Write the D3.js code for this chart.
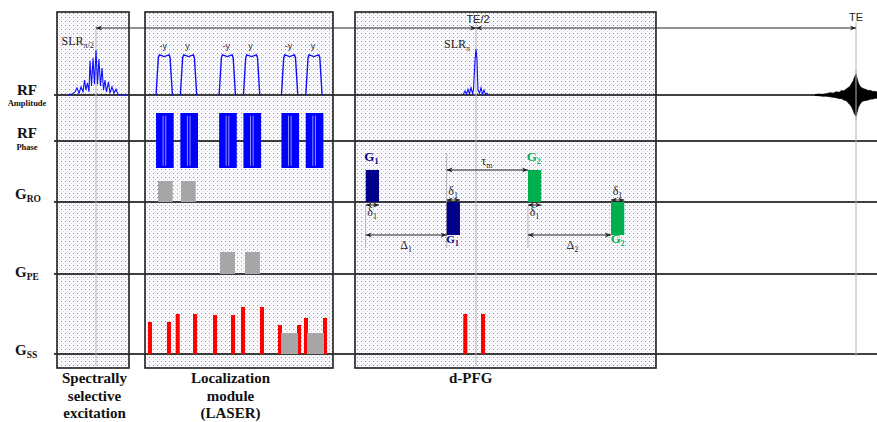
<!DOCTYPE html>
<html><head><meta charset="utf-8">
<script src="https://cdn.jsdelivr.net/npm/d3@7"></script>
<style>body{margin:0;background:#fff}svg{display:block}</style>
</head><body><svg id="c" width="877" height="422"></svg>
<script>
// ---------- DATA (time in units where TE = 100) ----------
const TE = 100;
const channels = ["RF", "RF", "G", "G", "G"];
const channelSubs = ["Amplitude", "Phase", "RO", "PE", "SS"];

const moduleLines = [["Spectrally", "selective", "excitation"], ["Localization", "module", "(LASER)"], ["d-PFG"]];
const moduleStart = [-5.13, 6.45, 34.08];
const moduleEnd = [4.34, 31.18, 73.68];
const moduleLabelT = [-0.2, 17.7, 49.3];

// SLR pi/2 excitation (centred at t = 0)
const slr90T = [-3.68,-3.16,-2.76,-2.5,-2.24,-1.97,-1.71,-1.51,-1.32,-1.12,-0.92,-0.79,-0.59,-0.39,-0.2,0,0.2,0.39,0.59,0.79,0.99,1.18,1.38,1.64,1.84,2.1,2.37,2.63,2.89,3.29,4.2];
const slr90A = [0,0.02,0.07,0.16,0.04,0.18,0.07,0.33,0.11,0.27,0.07,0.76,0.2,0.82,0.24,1.0,0.24,0.8,0.2,0.6,0.11,0.33,0.07,0.29,0.04,0.18,0.04,0.13,0.02,0,0];
// SLR pi refocusing (centred at TE/2)
const slr180T = [-1.71,-1.45,-1.25,-1.05,-0.86,-0.66,-0.46,-0.33,-0.13,0,0.13,0.26,0.46,0.66,0.86,1.05,1.25,1.45,1.58];
const slr180A = [0,0.09,0.02,0.13,0.02,0.16,0.04,0.11,0.78,1.02,0.78,0.11,0.04,0.16,0.02,0.11,0.02,0.04,0];

// LASER adiabatic pulses
const laserStart = [7.9, 11.1, 16.2, 19.4, 24.4, 27.6];
const laserDur = 2.15;
const laserPhase = ["-y", "y", "-y", "y", "-y", "y"];
const laserAmp = 0.89;
const hsShapeT = [0, 0.14, 0.2, 0.3, 0.5, 0.7, 0.8, 0.86, 1];
const hsShapeA = [0, 0.93, 1.0, 0.99, 0.96, 0.99, 1.0, 0.93, 0];
const phaseDur = 2.32;
const phaseStripes = [0.4, 0.55];

// Gradients (amplitudes in relative units)
const groStart = [8.16, 11.18], groDur = 1.93, groAmp = 0.525;
const gpeStart = [16.32, 19.6], gpeDur = 1.97, gpeAmp = 0.55;
const gssCenter = [7.1, 9.6, 10.75, 13.03, 15.66, 18.03, 19.34, 21.84, 24.21, 26.71, 27.63, 30.13, 48.59, 50.92];
const gssAmp = [0.8, 0.8, 1.0, 1.0, 0.975, 0.975, 1.175, 1.175, 0.725, 0.725, 0.9, 0.9, 1.0, 1.0];
const gssWidth = 0.53;
const crushStart = [24.34, 27.76], crushDur = 2.24, crushAmp = 0.525;

// d-PFG diffusion gradients
const dName = ["G1", "G1", "G2", "G2"];
const dStart = [35.49, 46.14, 56.84, 67.76];
const dDur = 1.75;
const dAmp = [0.8, -0.825, 0.8, -0.825];

// Echo signal envelope (centred at TE), upper and lower edges
const echoT = [-5.4,-4.9,-4.4,-3.9,-3.4,-3.0,-2.6,-2.2,-1.9,-1.6,-1.3,-1.05,-0.8,-0.55,-0.35,-0.18,0,0.15,0.3,0.5,0.75,1.0,1.3,1.6,1.9,2.2,2.5,2.8];
const echoUp = [0.01,0.02,0.015,0.03,0.05,0.04,0.07,0.06,0.1,0.09,0.13,0.16,0.19,0.26,0.32,0.4,0.46,0.36,0.27,0.2,0.16,0.14,0.12,0.1,0.1,0.08,0.08,0.065];
const echoDn = [0.01,0.015,0.025,0.025,0.04,0.05,0.06,0.08,0.08,0.11,0.12,0.17,0.21,0.27,0.35,0.43,0.47,0.38,0.28,0.21,0.15,0.13,0.12,0.11,0.09,0.09,0.07,0.07];

// ---------- DRAWING ----------
const svg = d3.select("#c");
const x = d3.scaleLinear().domain([0, TE]).range([96, 856]);
const yRF = d3.scaleLinear().domain([0, 1]).range([95, 50]);
const base = [95, 141, 202, 274, 354];
const gH = d3.scaleLinear().domain([0, 1]).range([0, 40]);
const phY = d3.scaleLinear().domain([-1, 1]).range([168, 113]);
const boxTop = 12, boxBot = 368;
const BLUE = "#1010ff", NAVY = "#00008b", GREEN = "#00b050", RED = "#ff0000", GREY = "#a6a6a6";
const serif = "'Liberation Serif','Times New Roman',serif";
const sans = "'Liberation Sans',Arial,sans-serif";

const defs = svg.append("defs");
const pat = defs.append("pattern").attr("id", "dots").attr("width", 4).attr("height", 4).attr("patternUnits", "userSpaceOnUse");
pat.append("rect").attr("width", 4).attr("height", 4).attr("fill", "#fbfbff");
pat.append("rect").attr("x", 1).attr("y", 1).attr("width", 1).attr("height", 1).attr("fill", "#8282f0");
pat.append("rect").attr("x", 3).attr("y", 3).attr("width", 1).attr("height", 1).attr("fill", "#d2d2fa");
defs.append("marker").attr("id", "ah").attr("viewBox", "0 0 10 10").attr("refX", 10).attr("refY", 5)
  .attr("markerWidth", 6).attr("markerHeight", 6).attr("orient", "auto-start-reverse")
  .append("path").attr("d", "M0,1L10,5L0,9L3,5Z").attr("fill", "#222");

// module boxes (fill)
const mods = moduleStart.map((s, i) => ({ s, e: moduleEnd[i], lines: moduleLines[i], lt: moduleLabelT[i] }));
svg.selectAll("rect.mod").data(mods).join("rect").attr("class", "mod")
  .attr("x", d => x(d.s)).attr("y", boxTop).attr("width", d => x(d.e) - x(d.s)).attr("height", boxBot - boxTop)
  .attr("fill", "url(#dots)");

// channel baselines
svg.selectAll("line.base").data(base).join("line").attr("class", "base")
  .attr("x1", 54).attr("x2", 877).attr("y1", d => d).attr("y2", d => d)
  .attr("stroke", "#000").attr("stroke-width", 1.3);

// vertical timing guides
const guide = (t, y1, y2) => svg.append("line").attr("x1", x(t)).attr("x2", x(t)).attr("y1", y1).attr("y2", y2)
  .attr("stroke", "#b4b4b4").attr("stroke-width", 1);
guide(0, 26, 366);
guide(TE / 2, 22, 366);
guide(TE, 22, 356);
guide(dStart[0], 205, 248);
guide(dStart[1], 153, 248);
guide(dStart[2], 206, 248);

// arrows
const arrow = (x1, x2, y) => svg.append("line").attr("x1", x1).attr("x2", x2).attr("y1", y).attr("y2", y)
  .attr("stroke", "#222").attr("stroke-width", 1).attr("marker-start", "url(#ah)").attr("marker-end", "url(#ah)");
arrow(x(0), x(TE / 2), 28);
arrow(x(TE / 2), x(TE), 28);

// RF amplitude: SLR pulses
const rfLine = d3.line().x(d => x(d[0])).y(d => yRF(d[1]));
svg.append("path").attr("d", rfLine(slr90T.map((t, i) => [t, slr90A[i]])))
  .attr("fill", "none").attr("stroke", BLUE).attr("stroke-width", 1.1);
svg.append("path").attr("d", rfLine(slr180T.map((t, i) => [TE / 2 + t, slr180A[i]])))
  .attr("fill", "none").attr("stroke", BLUE).attr("stroke-width", 1.1);

// LASER pulses
laserStart.forEach((s, i) => {
  svg.append("path").attr("d", rfLine(hsShapeT.map((f, j) => [s + f * laserDur, laserAmp * hsShapeA[j]])))
    .attr("fill", "none").attr("stroke", BLUE).attr("stroke-width", 1.4);
  svg.append("text").attr("x", x(s + laserDur / 2) - 1).attr("y", 49).attr("text-anchor", "middle")
    .attr("font-family", sans).attr("font-size", 9).attr("fill", "#333").text(laserPhase[i]);
});

// RF phase blocks
laserStart.forEach(s => {
  svg.append("rect").attr("x", x(s)).attr("y", phY(1)).attr("width", x(s + phaseDur) - x(s)).attr("height", phY(-1) - phY(1))
    .attr("fill", "#0000ff");
  phaseStripes.forEach(f => {
    svg.append("line").attr("x1", x(s + f * phaseDur)).attr("x2", x(s + f * phaseDur))
      .attr("y1", phY(0.9)).attr("y2", phY(-0.92)).attr("stroke", "#8c8cff").attr("stroke-width", 1);
  });
});

// gradient blocks helper
const gblock = (s, d, a, b, fill) => svg.append("rect").attr("x", x(s)).attr("width", x(s + d) - x(s))
  .attr("y", a >= 0 ? b - gH(a) : b).attr("height", gH(Math.abs(a))).attr("fill", fill);

groStart.forEach(s => gblock(s, groDur, groAmp, base[2], GREY));
gpeStart.forEach(s => gblock(s, gpeDur, gpeAmp, base[3], GREY));
gssCenter.forEach((c, i) => gblock(c - gssWidth / 2, gssWidth, gssAmp[i], base[4], RED));
crushStart.forEach(s => gblock(s, crushDur, crushAmp, base[4], GREY));

// d-PFG
dStart.forEach((s, i) => gblock(s, dDur, dAmp[i], base[2], dName[i] === "G1" ? NAVY : GREEN));

// echo
const echoArea = d3.area().x(d => x(TE + d[0])).y0(d => yRF(-d[2])).y1(d => yRF(d[1]));
svg.append("path").attr("d", echoArea(echoT.map((t, i) => [t, echoUp[i], echoDn[i]])))
  .attr("fill", "#000").attr("stroke", "#000").attr("stroke-width", 0.8);
guide(TE, 70, 120);

// module box borders
svg.selectAll("rect.modb").data(mods).join("rect").attr("class", "modb")
  .attr("x", d => x(d.s)).attr("y", boxTop).attr("width", d => x(d.e) - x(d.s)).attr("height", boxBot - boxTop)
  .attr("fill", "none").attr("stroke", "#2a2a2a").attr("stroke-width", 1.7);

// module labels
mods.forEach(m => {
  const t = svg.append("text").attr("text-anchor", "middle").attr("font-family", serif).attr("font-weight", "bold")
    .attr("font-size", 15).attr("fill", "#111");
  m.lines.forEach((ln, j) => t.append("tspan").attr("x", x(m.lt)).attr("y", 383 + j * 17.5).text(ln));
});

// channel labels
const lab = svg.append("g").attr("font-family", serif).attr("font-weight", "bold").attr("fill", "#111");
lab.append("text").attr("x", 27).attr("y", 95).attr("text-anchor", "middle").attr("font-size", 15).text(channels[0]);
lab.append("text").attr("x", 27).attr("y", 106).attr("text-anchor", "middle").attr("font-size", 8.5).text(channelSubs[0]);
lab.append("text").attr("x", 27).attr("y", 138).attr("text-anchor", "middle").attr("font-size", 15).text(channels[1]);
lab.append("text").attr("x", 27).attr("y", 150).attr("text-anchor", "middle").attr("font-size", 8.5).text(channelSubs[1]);
[[199, 2], [276.5, 3], [355, 4]].forEach(([yy, k]) => {
  const t = lab.append("text").attr("x", 15).attr("y", yy).attr("font-size", 15);
  t.append("tspan").text(channels[k]);
  t.append("tspan").attr("font-size", 9.5).attr("dy", 3).text(channelSubs[k]);
});

// RF annotations
const sub = (xx, yy, main, s, size, ssize, fam, weight, color) => {
  const t = svg.append("text").attr("x", xx).attr("y", yy).attr("font-family", fam).attr("font-size", size)
    .attr("font-weight", weight).attr("fill", color);
  t.append("tspan").text(main);
  t.append("tspan").attr("font-size", ssize).attr("dy", 3).text(s);
  return t;
};
sub(61.5, 45, "SLR", "π/2", 12, 8, serif, "normal", "#222");
sub(444, 48, "SLR", "π", 12, 8, serif, "normal", "#222");
svg.append("text").attr("x", x(TE / 2) + 2).attr("y", 22.5).attr("text-anchor", "middle").attr("font-family", sans)
  .attr("font-size", 11).attr("fill", "#222").text("TE/2");
svg.append("text").attr("x", x(TE)).attr("y", 20.5).attr("text-anchor", "middle").attr("font-family", sans)
  .attr("font-size", 11).attr("fill", "#222").text("TE");

// d-PFG annotations
const gy = base[2];
arrow(x(dStart[1]), x(dStart[2]), gy - gH(0.8));
arrow(x(dStart[0]), x(dStart[1]), gy + gH(0.825));
arrow(x(dStart[2]), x(dStart[3]), gy + gH(0.825));
sub(x((dStart[1] + dStart[2]) / 2) - 6, 165, "τ", "m", 12, 8, serif, "normal", "#222");
sub(x((dStart[0] + dStart[1]) / 2) - 6, 249, "Δ", "1", 12, 8, serif, "normal", "#222");
sub(x((dStart[2] + dStart[3]) / 2) - 3, 249, "Δ", "2", 12, 8, serif, "normal", "#222");
dStart.forEach((s, i) => {
  const up = dAmp[i] > 0;
  const ay = up ? gy + 3 : gy - 2;
  arrow(x(s), x(s + dDur), ay);
  sub(x(s + dDur / 2) - 5, up ? 216 : 195, "δ", "1", 12, 8, serif, "normal", "#222");
  const col = dName[i] === "G1" ? NAVY : GREEN;
  const xc = x(s + dDur / 2);
  if (up) sub(xc - 8, 161, "G", dName[i].slice(1), 13, 8, serif, "bold", col);
  else sub(xc - 7, 243, "G", dName[i].slice(1), i === 3 ? 13 : 11, 7.5, serif, "bold", col);
});
</script></body></html>
